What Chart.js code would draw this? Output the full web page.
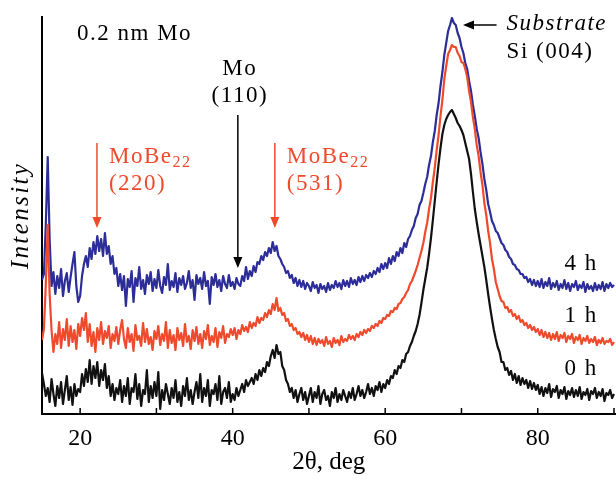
<!DOCTYPE html>
<html>
<head>
<meta charset="utf-8">
<title>XRD 0.2 nm Mo</title>
<script src="https://cdn.jsdelivr.net/npm/chart.js@4.4.0/dist/chart.umd.min.js"></script>
<style>
  html, body { margin: 0; padding: 0; background: #fff; }
</style>
</head>
<body>
<canvas id="xrd" width="616" height="479"></canvas>
<script>
// 2theta grid of the scans (deg): first angle and step
const angleStart = 15;
const angleStep = 0.25;

// Intensity (arb. units), one value per 0.25 deg, 15..90 deg
const intensity4h = [
  134,140,190,257,175,128,142,120,138,126,145,118,133,141,122,137,150,162,128,112,
  118,138,150,158,147,166,155,172,160,178,163,175,158,181,160,168,150,158,140,146,
  128,140,124,138,108,135,127,143,112,136,128,147,125,134,120,139,130,142,123,135,
  126,144,128,121,137,129,150,124,133,127,141,122,136,129,138,125,131,143,126,134,
  114,139,130,136,125,142,128,133,110,137,129,140,127,134,123,138,130,126,139,128,
  132,125,136,130,128,138,133,147,135,143,138,148,142,152,150,158,154,162,158,166,
  161,172,163,168,158,155,150,147,141,143,136,139,131,136,128,134,127,133,125,131,
  128,123,132,126,129,121,130,125,128,122,131,124,129,126,133,127,131,125,134,128,
  133,127,136,130,134,129,137,132,138,133,139,136,141,137,143,140,146,142,150,145,
  151,146,156,150,158,153,162,158,166,161,171,167,175,178,184,188,196,200,209,213,
  221,230,237,249,258,272,283,299,311,328,342,359,371,383,389,396,391,389,381,376,
  367,361,351,345,333,323,309,298,285,276,262,250,235,224,210,202,193,189,183,181,
  176,171,169,164,162,157,155,150,149,145,144,140,140,136,137,132,135,129,134,128,
  133,127,135,126,132,128,136,125,131,127,133,124,130,126,134,125,131,123,130,127,
  133,124,129,126,132,122,130,125,128,123,131,124,129,125,132,123,130,126,131,127,
  129
];
const intensity1h = [
  74,85,130,189,120,84,62,80,70,92,66,85,74,95,68,88,72,84,65,90,
  78,96,84,101,72,90,68,82,62,86,74,92,70,83,76,88,66,80,73,87,
  70,84,94,75,66,86,72,80,63,89,74,78,68,91,72,85,70,77,64,83,
  75,88,69,80,73,92,66,84,71,79,64,86,74,81,68,90,72,78,65,84,
  73,87,70,80,66,83,75,89,69,78,72,86,67,82,76,88,71,80,77,85,
  79,86,75,84,80,89,83,87,82,92,86,91,88,97,91,96,94,101,97,104,
  100,110,104,116,103,106,99,101,93,95,88,90,84,86,80,82,77,81,74,79,
  72,78,70,76,69,75,71,74,68,77,70,73,67,76,71,74,69,78,72,75,
  73,79,75,78,74,80,77,82,79,84,81,85,83,88,86,90,88,93,91,96,
  95,99,98,103,102,106,105,110,111,115,117,121,124,130,133,138,143,149,156,163,
  171,182,191,205,216,232,246,264,279,298,314,335,348,360,364,369,367,367,361,358,
  352,351,345,337,323,312,297,285,269,258,242,229,211,199,183,171,155,145,132,125,
  118,113,112,106,107,102,104,98,100,95,98,92,94,89,91,86,89,84,87,82,
  85,79,84,77,82,76,81,74,80,75,82,73,79,76,81,72,78,75,80,71,
  77,74,79,70,76,73,78,71,75,72,77,69,74,71,76,70,73,72,75,69,
  72
];
const intensity0h = [
  41,30,18,26,12,35,20,8,28,16,32,10,24,38,14,27,9,30,18,25,
  22,40,28,45,32,54,30,48,36,52,28,44,34,50,26,38,18,30,14,26,
  20,34,12,28,18,36,10,26,22,40,15,30,8,24,20,44,12,28,16,32,
  18,42,5,24,14,30,20,10,26,16,34,12,22,8,28,18,36,14,24,10,
  22,32,16,40,12,26,18,34,8,24,20,30,14,38,10,22,26,16,32,12,
  20,14,26,18,24,30,22,34,28,32,36,30,40,34,44,38,46,42,52,48,
  58,64,56,69,60,62,48,44,34,30,22,26,16,24,12,20,26,14,22,10,
  18,26,12,22,16,28,10,20,24,14,18,8,22,16,26,12,20,14,24,18,
  12,22,16,26,14,20,28,18,24,16,22,30,20,26,18,28,24,32,22,30,
  26,34,30,38,36,44,40,48,46,54,52,60,62,68,72,78,83,90,99,111,
  124,135,146,160,176,194,213,232,250,266,280,289,295,299,302,304,300,296,291,288,
  284,279,271,263,255,240,222,205,192,180,169,158,147,134,120,107,95,84,75,67,
  62,52,52,44,46,39,43,34,40,31,38,29,36,30,34,26,33,25,31,24,
  29,20,27,18,26,21,30,17,25,22,28,16,24,20,27,15,23,19,26,17,
  24,18,27,15,22,19,25,14,23,20,26,16,22,18,25,13,21,19,24,16,
  20
];

const xTickValues = [20, 30, 40, 50, 60, 70, 80, 90];
const xTickLabels = ['20', '', '40', '', '60', '', '80', ''];

const BLUE = '#2c2d98';
const RED = '#ef4a2c';
const BLACK = '#111111';
const SERIF = "'Liberation Serif', 'Times New Roman', serif";

const toPoints = (values) => values.map((v, i) => ({ x: angleStart + i * angleStep, y: v }));

// Draws a straight arrow with a filled head at (x2, y2)
function drawArrow(ctx, x1, y1, x2, y2, color) {
    const ang = Math.atan2(y2 - y1, x2 - x1);
    const len = 11, half = 4.5;
    ctx.strokeStyle = color;
    ctx.fillStyle = color;
    ctx.lineWidth = 1.5;
    ctx.beginPath();
    ctx.moveTo(x1, y1);
    ctx.lineTo(x2 - Math.cos(ang) * len * 0.8, y2 - Math.sin(ang) * len * 0.8);
    ctx.stroke();
    ctx.beginPath();
    ctx.moveTo(x2, y2);
    ctx.lineTo(x2 - Math.cos(ang) * len - Math.sin(ang) * half, y2 - Math.sin(ang) * len + Math.cos(ang) * half);
    ctx.lineTo(x2 - Math.cos(ang) * len + Math.sin(ang) * half, y2 - Math.sin(ang) * len - Math.cos(ang) * half);
    ctx.closePath();
    ctx.fill();
}

// Labels, arrows, inner tick marks and the y title
const xrdAnnotations = {
    id: 'xrdAnnotations',
    afterDraw(chart) {
        const { ctx, chartArea, scales: { x, y } } = chart;
        const px = (deg) => x.getPixelForValue(deg);
        const py = (v) => y.getPixelForValue(v);

        ctx.save();

        // inner ticks on the 2theta axis
        ctx.strokeStyle = '#000';
        ctx.lineWidth = 1.5;
        xTickValues.forEach((v) => {
            ctx.beginPath();
            ctx.moveTo(px(v), chartArea.bottom);
            ctx.lineTo(px(v), chartArea.bottom - 6);
            ctx.stroke();
        });

        ctx.letterSpacing = '1.5px';
        ctx.textBaseline = 'alphabetic';

        const text = (str, deg, val, color, align, font) => {
            ctx.font = font || `23px ${SERIF}`;
            ctx.fillStyle = color;
            ctx.textAlign = align;
            ctx.fillText(str, px(deg), py(val));
        };

        // y title
        ctx.save();
        ctx.translate(21, (chartArea.top + chartArea.bottom) / 2);
        ctx.rotate(-Math.PI / 2);
        ctx.letterSpacing = '2.4px';
        ctx.font = `italic 25px ${SERIF}`;
        ctx.fillStyle = '#000';
        ctx.textAlign = 'center';
        ctx.textBaseline = 'middle';
        ctx.fillText('Intensity', 0, 0);
        ctx.restore();

        text('0.2 nm Mo', 19.59, 374, '#000', 'left');

        // Mo (110)
        text('Mo', 40.94, 339, '#000', 'center');
        text('(110)', 40.94, 312, '#000', 'center');
        drawArrow(ctx, px(40.68), py(299), px(40.68), py(146), '#000');

        // MoBe22 reflections
        const moBe = (deg, hkl) => {
            ctx.font = `23px ${SERIF}`;
            ctx.fillStyle = RED;
            ctx.textAlign = 'left';
            ctx.fillText('MoBe', px(deg), py(251));
            const w = ctx.measureText('MoBe').width;
            ctx.font = `16px ${SERIF}`;
            ctx.fillText('22', px(deg) + w, py(251) + 4);
            text(hkl, deg, 224, RED, 'left');
        };
        moBe(23.78, '(220)');
        moBe(47.10, '(531)');
        drawArrow(ctx, px(22.21), py(271), px(22.21), py(186), RED);
        drawArrow(ctx, px(45.53), py(271), px(45.53), py(186), RED);

        // substrate peak
        drawArrow(ctx, px(74.6), py(389), px(70.2), py(389), '#000');
        text('Substrate', 75.92, 384, '#000', 'left', `italic 23px ${SERIF}`);
        text('Si (004)', 75.92, 356, '#000', 'left');

        // annealing times
        text('4 h', 83.52, 144, '#000', 'left');
        text('1 h', 83.52, 92, '#000', 'left');
        text('0 h', 83.52, 39, '#000', 'left');

        ctx.restore();
    }
};

window.addEventListener('DOMContentLoaded', () => {
    const ctx = document.getElementById('xrd').getContext('2d');

    new Chart(ctx, {
        type: 'line',
        data: {
            datasets: [
                { label: '0 h', data: toPoints(intensity0h), borderColor: BLACK, borderWidth: 2.2 },
                { label: '1 h', data: toPoints(intensity1h), borderColor: RED, borderWidth: 2.2 },
                { label: '4 h', data: toPoints(intensity4h), borderColor: BLUE, borderWidth: 2.2 }
            ]
        },
        options: {
            responsive: false,
            animation: false,
            events: [],
            elements: {
                point: { radius: 0 },
                line: { tension: 0, borderJoinStyle: 'round' }
            },
            layout: { padding: { top: 17, right: 0, bottom: 0, left: 0 } },
            plugins: {
                legend: { display: false },
                tooltip: { enabled: false }
            },
            scales: {
                x: {
                    type: 'linear',
                    min: 15,
                    max: 90.2,
                    afterBuildTicks: (scale) => { scale.ticks = xTickValues.map((v) => ({ value: v })); },
                    afterFit: (scale) => { scale.height = 65; },
                    grid: { display: false },
                    border: { display: true, color: '#000', width: 2 },
                    ticks: {
                        autoSkip: false,
                        maxRotation: 0,
                        padding: 2,
                        color: '#000',
                        font: { family: SERIF, size: 24 },
                        callback: (value, index) => xTickLabels[index]
                    },
                    title: {
                        display: true,
                        text: '2θ, deg',
                        color: '#000',
                        font: { family: SERIF, size: 25 },
                        padding: { top: 0, bottom: 2 }
                    }
                },
                y: {
                    min: 0,
                    max: 397,
                    afterFit: (scale) => { scale.width = 42; },
                    grid: { display: false },
                    border: { display: true, color: '#000', width: 2 },
                    ticks: { display: false }
                }
            }
        },
        plugins: [xrdAnnotations]
    });
});
</script>
</body>
</html>
